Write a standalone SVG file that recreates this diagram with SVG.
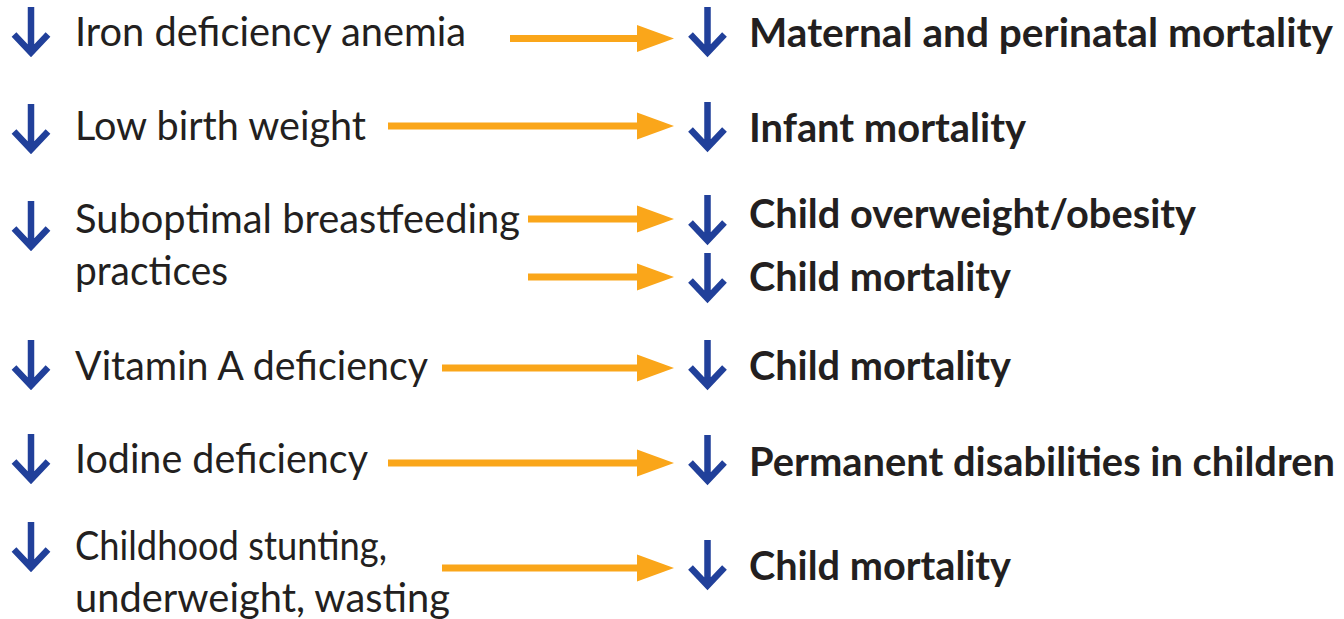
<svg xmlns="http://www.w3.org/2000/svg" xmlns:xlink="http://www.w3.org/1999/xlink" width="1344" height="619" viewBox="0 0 1344 619">
  <style>
    .cause { font-family: Lato, "Open Sans", "Liberation Sans", sans-serif; font-size: 41px; fill: #231f20; }
    .effect { font-family: Lato, "Open Sans", "Liberation Sans", sans-serif; font-size: 41px; font-weight: 700; fill: #231f20; }
    .down { fill: none; stroke: #21409a; stroke-width: 6.5; stroke-linejoin: miter; stroke-miterlimit: 10; }
    .link { stroke: #faa61a; stroke-width: 7; }
    .head { fill: #faa61a; }
  </style>
  <defs>
    <!-- downward arrow, 50px tall, origin at the top of the shaft -->
    <path id="dn" class="down" d="M0,0 V45.4 M-17,27.4 L0,45.4 L17,27.4"/>
  </defs>

  <!-- causes -->
  <g id="iron">
    <use xlink:href="#dn" x="31" y="7"/>
    <text class="cause" x="75" y="46" textLength="391" lengthAdjust="spacingAndGlyphs">Iron deficiency anemia</text>
  </g>
  <g id="lbw">
    <use xlink:href="#dn" x="31" y="104"/>
    <text class="cause" x="75" y="140" textLength="291" lengthAdjust="spacingAndGlyphs">Low birth weight</text>
  </g>
  <g id="breastfeeding">
    <use xlink:href="#dn" x="31" y="201"/>
    <text class="cause" x="75" y="233" textLength="445" lengthAdjust="spacingAndGlyphs">Suboptimal breastfeeding</text>
    <text class="cause" x="75" y="285" textLength="153" lengthAdjust="spacingAndGlyphs">practices</text>
  </g>
  <g id="vitA">
    <use xlink:href="#dn" x="31" y="340"/>
    <text class="cause" x="75" y="380" textLength="353" lengthAdjust="spacingAndGlyphs">Vitamin A deficiency</text>
  </g>
  <g id="iodine">
    <use xlink:href="#dn" x="31" y="434"/>
    <text class="cause" x="75" y="473" textLength="293" lengthAdjust="spacingAndGlyphs">Iodine deficiency</text>
  </g>
  <g id="stunting">
    <use xlink:href="#dn" x="31" y="522"/>
    <text class="cause" x="75" y="560" textLength="312" lengthAdjust="spacingAndGlyphs">Childhood stunting,</text>
    <text class="cause" x="75" y="612" textLength="375" lengthAdjust="spacingAndGlyphs">underweight, wasting</text>
  </g>

  <!-- outcomes -->
  <g id="maternal">
    <use xlink:href="#dn" x="707.5" y="7"/>
    <text class="effect" x="749" y="47" textLength="584" lengthAdjust="spacingAndGlyphs">Maternal and perinatal mortality</text>
  </g>
  <g id="infant">
    <use xlink:href="#dn" x="707.5" y="102"/>
    <text class="effect" x="749" y="142" textLength="277" lengthAdjust="spacingAndGlyphs">Infant mortality</text>
  </g>
  <g id="overweight">
    <use xlink:href="#dn" x="707.5" y="195"/>
    <text class="effect" x="749" y="228" textLength="447" lengthAdjust="spacingAndGlyphs">Child overweight/obesity</text>
  </g>
  <g id="child-mort-1">
    <use xlink:href="#dn" x="707.5" y="253"/>
    <text class="effect" x="749" y="291" textLength="262" lengthAdjust="spacingAndGlyphs">Child mortality</text>
  </g>
  <g id="child-mort-2">
    <use xlink:href="#dn" x="707.5" y="340"/>
    <text class="effect" x="749" y="380" textLength="262" lengthAdjust="spacingAndGlyphs">Child mortality</text>
  </g>
  <g id="disabilities">
    <use xlink:href="#dn" x="707.5" y="435"/>
    <text class="effect" x="749" y="476" font-size="39" textLength="586" lengthAdjust="spacingAndGlyphs">Permanent disabilities in children</text>
  </g>
  <g id="child-mort-3">
    <use xlink:href="#dn" x="707.5" y="540"/>
    <text class="effect" x="749" y="580" textLength="262" lengthAdjust="spacingAndGlyphs">Child mortality</text>
  </g>

  <!-- connectors -->
  <g id="connectors">
    <line class="link" x1="510" y1="38.5" x2="638" y2="38.5"/>
    <polygon class="head" points="637,25 674,38.5 637,52"/>
    <line class="link" x1="388" y1="126" x2="638" y2="126"/>
    <polygon class="head" points="637,112.5 674,126 637,139.5"/>
    <line class="link" x1="528" y1="219" x2="638" y2="219"/>
    <polygon class="head" points="637,205.5 674,219 637,232.5"/>
    <line class="link" x1="528" y1="277" x2="638" y2="277"/>
    <polygon class="head" points="637,263.5 674,277 637,290.5"/>
    <line class="link" x1="442" y1="368" x2="638" y2="368"/>
    <polygon class="head" points="637,354.5 674,368 637,381.5"/>
    <line class="link" x1="388" y1="463" x2="638" y2="463"/>
    <polygon class="head" points="637,449.5 674,463 637,476.5"/>
    <line class="link" x1="442" y1="568" x2="638" y2="568"/>
    <polygon class="head" points="637,554.5 674,568 637,581.5"/>
  </g>
</svg>
